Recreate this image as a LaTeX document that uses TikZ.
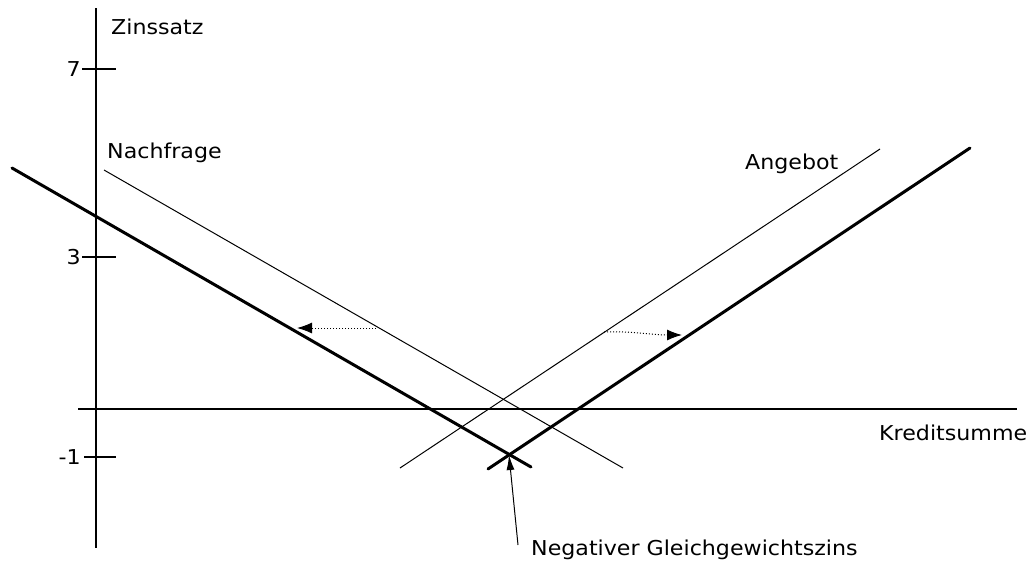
\documentclass[tikz,border=0pt]{standalone}
\usepackage{fontspec}
\setmainfont{DejaVu Sans}[FakeStretch=1.08]
\usetikzlibrary{arrows.meta}
\begin{document}
\begin{tikzpicture}[x=1pt,y=-1pt,
  lbl/.style={font=\fontsize{20.5}{24}\selectfont, inner sep=0pt, anchor=base west},
  axis/.style={line width=1.3pt},
  thinline/.style={line width=1pt},
  thickline/.style={line width=3pt},
  shiftarrow/.style={dotted, line width=1pt, -{Latex[length=15pt,width=11pt]}}]
\useasboundingbox (0,0) rectangle (1029,563);
% axes
\coordinate (ytop) at (96,8);
\coordinate (ybot) at (96,548);
\coordinate (xl) at (78,409);
\coordinate (xr) at (1017,409);
\draw[axis] (ytop) -- (ybot);
\draw[axis] (xl) -- (xr);
% ticks
\coordinate (t7a) at (82,69); \coordinate (t7b) at (116,69);
\coordinate (t3a) at (82,257); \coordinate (t3b) at (116,257);
\coordinate (tma) at (84,457); \coordinate (tmb) at (116,457);
\draw[axis] (t7a) -- (t7b);
\draw[axis] (t3a) -- (t3b);
\draw[axis] (tma) -- (tmb);
\node[lbl, anchor=base east] (l7) at (81,76) {7};
\node[lbl, anchor=base east] (l3) at (81,264) {3};
\node[lbl, anchor=base east] (lm) at (81,464) {-1};
% labels
\node[lbl] (zins) at (111,34) {Zinssatz};
\node[lbl] (nach) at (107,158) {Nachfrage};
\node[lbl] (ang) at (745,169) {Angebot};
\node[lbl] (kred) at (879,440) {Kreditsumme};
\node[lbl] (neg) at (531,555) {Negativer Gleichgewichtszins};
% curves
\coordinate (d0a) at (104,170); \coordinate (d0b) at (623,468);
\coordinate (s0a) at (400,468); \coordinate (s0b) at (880,149);
\coordinate (d1a) at (12,168);  \coordinate (d1b) at (531,467);
\coordinate (s1a) at (488,469); \coordinate (s1b) at (970,148);
\draw[thinline] (d0a) -- (d0b);
\draw[thinline] (s0a) -- (s0b);
\draw[thickline, line cap=round] (d1a) -- (d1b);
\draw[thickline, line cap=round] (s1a) -- (s1b);
% shift arrows
\coordinate (la) at (376,328); \coordinate (lb) at (297,328);
\coordinate (ra) at (604,332); \coordinate (rb) at (682,335);
\draw[shiftarrow] (la) -- (lb);
\draw[shiftarrow] (ra) .. controls (635,331) and (650,335) .. (rb);
% equilibrium pointer
\coordinate (eqa) at (518,545); \coordinate (eqb) at (509,455);
\draw[line width=1pt, -{Latex[length=15pt,width=8pt]}] (eqa) -- (eqb);
\end{tikzpicture}
\end{document}
